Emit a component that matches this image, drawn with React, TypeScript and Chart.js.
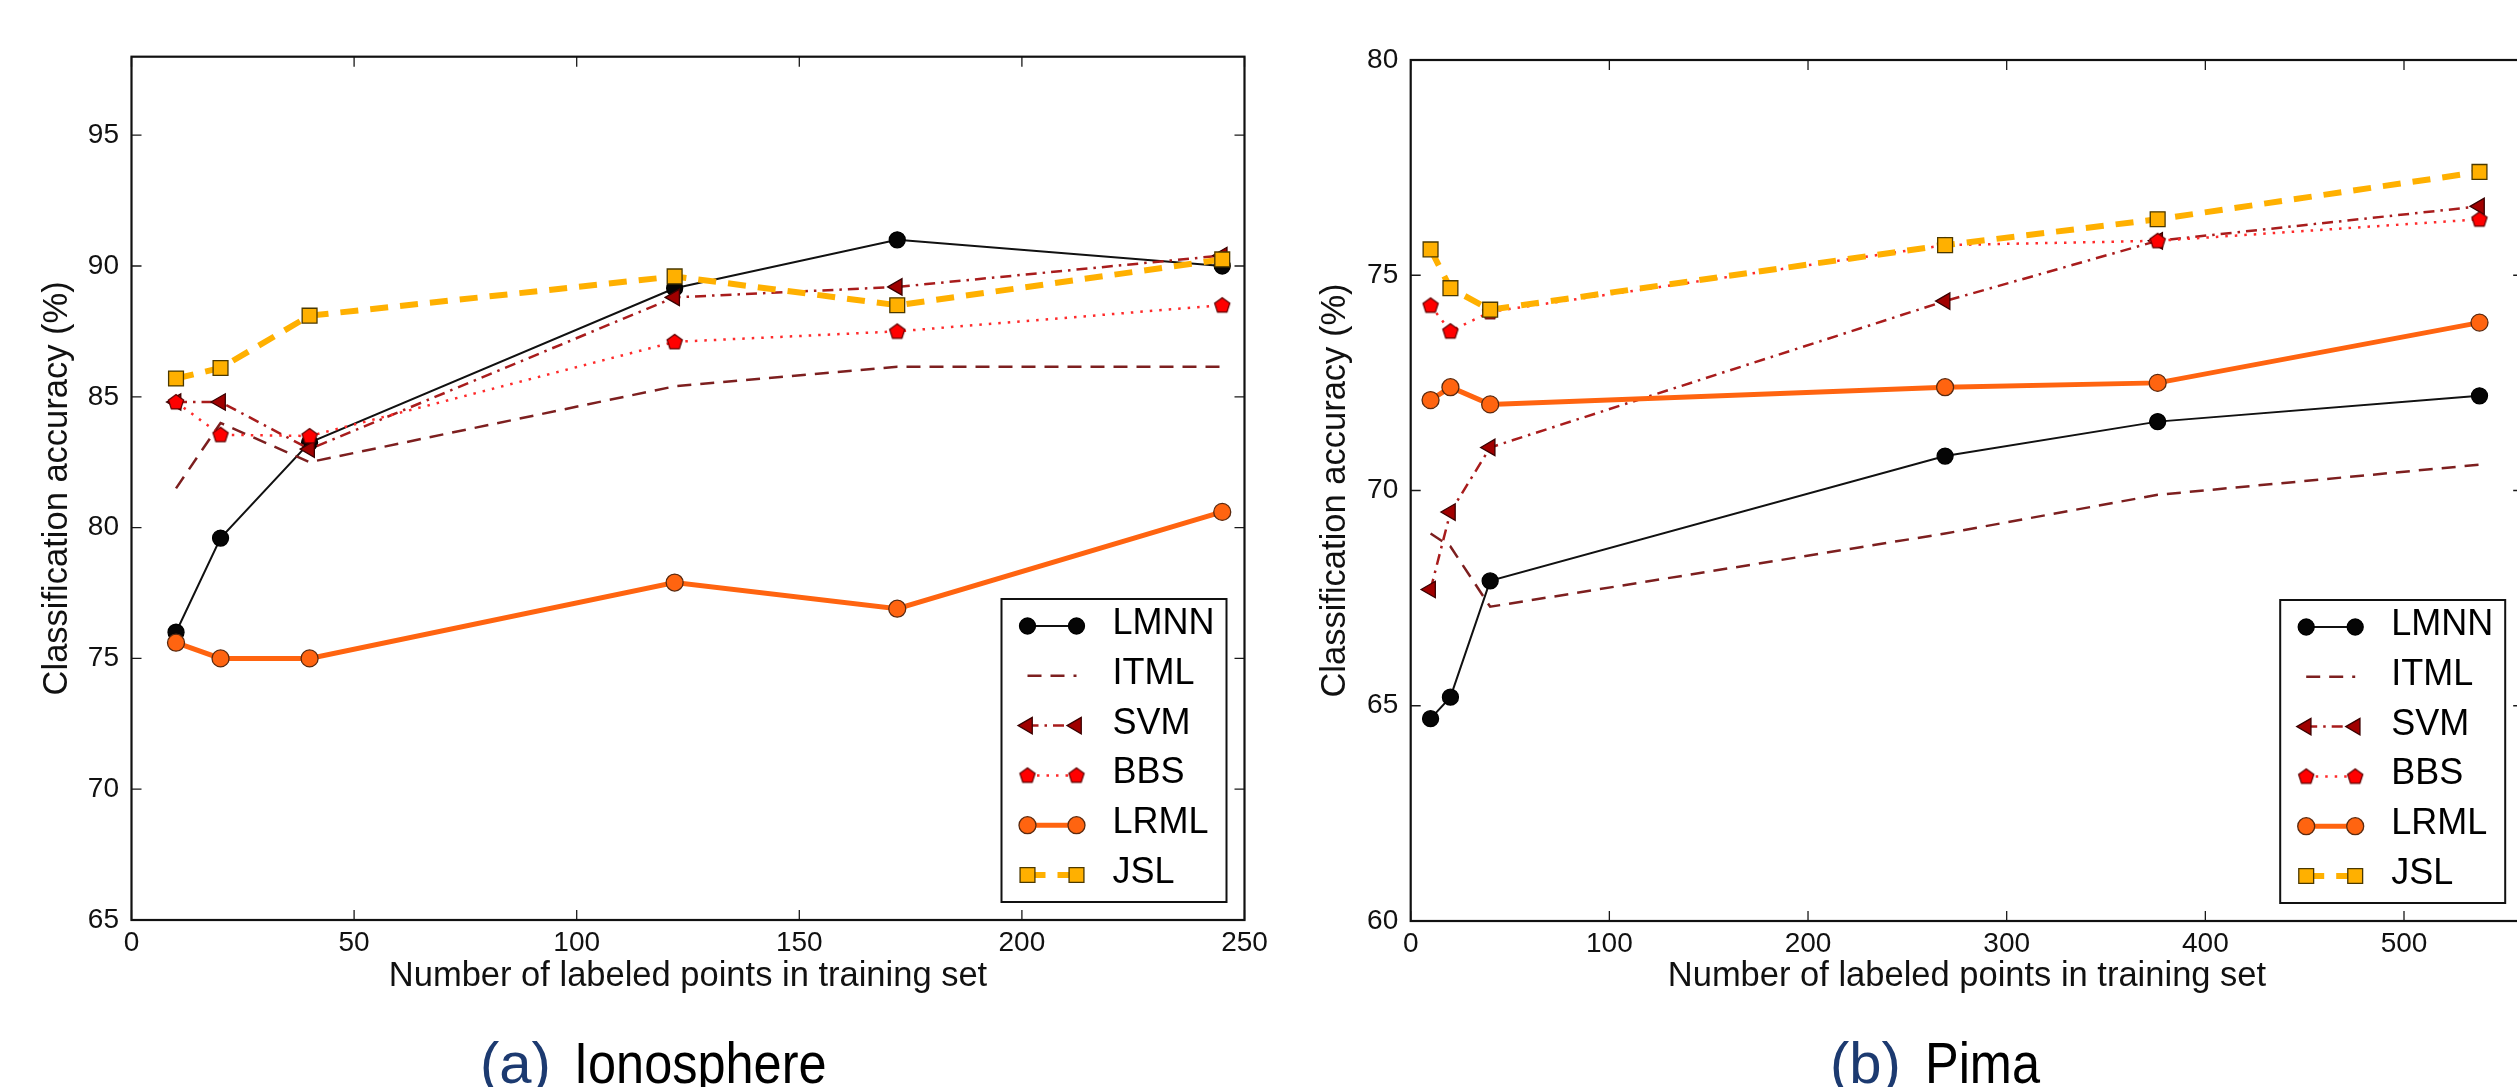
import React, { useEffect, useRef } from 'react';
import { Chart, registerables } from 'chart.js';
import { drawPoint } from 'chart.js/helpers';

Chart.register(...registerables);

// ---------------- data ----------------
const seriesNames = ['LMNN', 'ITML', 'SVM', 'BBS', 'LRML', 'JSL'];

// (a) Ionosphere
const ionoX = [10, 20, 40, 122, 172, 245];
const ionoLMNN = [76.0, 79.6, 83.25, 89.15, 91.0, 90.0];
const ionoITML = [81.5, 84.0, 82.5, 85.4, 86.15, 86.15];
const ionoSVM = [84.8, 84.8, 83.0, 88.8, 89.2, 90.4];
const ionoBBS = [84.8, 83.55, 83.5, 87.1, 87.5, 88.5];
const ionoLRML = [75.6, 75.0, 75.0, 77.9, 76.9, 80.6];
const ionoJSL = [85.7, 86.1, 88.1, 89.6, 88.5, 90.25];
const ionoXTicks = [0, 50, 100, 150, 200, 250];
const ionoYTicks = [65, 70, 75, 80, 85, 90, 95];
const ionoXRange = [0, 250];
const ionoYRange = [65, 98];

// (b) Pima
const pimaX = [10, 20, 40, 269, 376, 538];
const pimaLMNN = [64.7, 65.2, 67.9, 70.8, 71.6, 72.2];
const pimaITML = [69.0, 68.7, 67.3, 69.0, 69.9, 70.6];
const pimaSVM = [67.7, 69.5, 71.0, 74.4, 75.8, 76.6];
const pimaBBS = [74.3, 73.7, 74.15, 75.7, 75.8, 76.3];
const pimaLRML = [72.1, 72.4, 72.0, 72.4, 72.5, 73.9];
const pimaJSL = [75.6, 74.7, 74.2, 75.7, 76.3, 77.4];
const pimaXTicks = [0, 100, 200, 300, 400, 500];
const pimaYTicks = [60, 65, 70, 75, 80];
const pimaXRange = [0, 560];
const pimaYRange = [60, 80];

const xTitle = 'Number of labeled points in training set';
const yTitle = 'Classification accuracy (%)';
const captionA = ['(a)', 'Ionosphere'];
const captionB = ['(b)', 'Pima'];

// ---------------- styling ----------------
const FONT = "'Liberation Sans', Arial, Helvetica, sans-serif";

function makePentagon(r: number, fill: string, edge: string) {
  const size = Math.ceil(2 * r + 4);
  const c = document.createElement('canvas');
  c.width = size;
  c.height = size;
  const ctx = c.getContext('2d')!;
  ctx.beginPath();
  for (let i = 0; i < 5; i++) {
    const ang = -Math.PI / 2 + (i * 2 * Math.PI) / 5;
    const px = size / 2 + r * Math.cos(ang);
    const py = size / 2 + 0.5 + r * Math.sin(ang);
    if (i === 0) ctx.moveTo(px, py);
    else ctx.lineTo(px, py);
  }
  ctx.closePath();
  ctx.fillStyle = fill;
  ctx.fill();
  ctx.lineWidth = 1.2;
  ctx.strokeStyle = edge;
  ctx.stroke();
  return c;
}

function getStyles() {
  return [
    { color: '#111111', width: 2, dash: [], point: 'circle', radius: 8, fill: '#050505', edge: '#000000', rot: 0 },
    { color: '#7d1f1f', width: 2.5, dash: [14, 9], point: 'circle', radius: 0, fill: '#7d1f1f', edge: '#7d1f1f', rot: 0 },
    { color: '#a81c1c', width: 2.5, dash: [11, 6, 2.5, 6], point: 'triangle', radius: 9.5, fill: '#a00000', edge: '#3a0000', rot: -90 },
    { color: '#ff2a2a', width: 2.5, dash: [2.5, 7], point: makePentagon(8, '#ff0000', '#5a0000'), radius: 8, fill: '#ff0000', edge: '#5a0000', rot: 0 },
    { color: '#ff6410', width: 5, dash: [], point: 'circle', radius: 8.5, fill: '#ff6410', edge: '#5a2a10', rot: 0 },
    { color: '#ffb000', width: 6, dash: [18, 12], point: 'rect', radius: 10.5, fill: '#ffb000', edge: '#4a3800', rot: 0 },
  ];
}

const LEGEND = {
  offRight: 18,
  offBottom: 18,
  width: 225,
  height: 303,
  firstRow: 27,
  rowGap: 49.8,
  lineStart: 26,
  lineEnd: 75,
  textX: 111,
  fontSize: 36,
};

const decorPlugin = {
  id: 'decor',
  afterDatasetsDraw(chart: any, _args: any, opts: any) {
    const { ctx, chartArea: a, scales } = chart;
    const xs = scales.x;
    const ys = scales.y;
    ctx.save();
    ctx.setLineDash([]);
    ctx.strokeStyle = '#1a1a1a';
    ctx.lineWidth = 1.3;
    const tl = 10;
    ctx.beginPath();
    xs.ticks.forEach((t: any) => {
      const p = xs.getPixelForValue(t.value);
      ctx.moveTo(p, a.bottom);
      ctx.lineTo(p, a.bottom - tl);
      ctx.moveTo(p, a.top);
      ctx.lineTo(p, a.top + tl);
    });
    ys.ticks.forEach((t: any) => {
      const p = ys.getPixelForValue(t.value);
      ctx.moveTo(a.left, p);
      ctx.lineTo(a.left + tl, p);
      ctx.moveTo(a.right, p);
      ctx.lineTo(a.right - tl, p);
    });
    ctx.stroke();
    ctx.lineWidth = 2.2;
    ctx.strokeStyle = '#111';
    ctx.strokeRect(a.left, a.top, a.right - a.left, a.bottom - a.top);

    // legend (lower right)
    const L = opts.legend;
    const right = a.right - L.offRight;
    const bottom = a.bottom - L.offBottom;
    const left = right - L.width;
    const top = bottom - L.height;
    ctx.fillStyle = '#ffffff';
    ctx.fillRect(left, top, L.width, L.height);
    ctx.lineWidth = 2;
    ctx.strokeStyle = '#111';
    ctx.strokeRect(left, top, L.width, L.height);
    chart.data.datasets.forEach((ds: any, i: number) => {
      const y = top + L.firstRow + i * L.rowGap;
      const x0 = left + L.lineStart;
      const x1 = left + L.lineEnd;
      ctx.save();
      ctx.beginPath();
      ctx.setLineDash(ds.borderDash || []);
      ctx.lineWidth = ds.borderWidth;
      ctx.strokeStyle = ds.borderColor;
      ctx.moveTo(x0, y);
      ctx.lineTo(x1, y);
      ctx.stroke();
      ctx.setLineDash([]);
      if (ds.pointRadius > 0) {
        ctx.fillStyle = ds.pointBackgroundColor;
        ctx.strokeStyle = ds.pointBorderColor;
        ctx.lineWidth = ds.pointBorderWidth;
        const po = {
          pointStyle: ds.pointStyle,
          rotation: ds.pointRotation || 0,
          radius: ds.pointRadius,
          borderWidth: ds.pointBorderWidth,
        };
        drawPoint(ctx, po as any, x0, y);
        drawPoint(ctx, po as any, x1, y);
      }
      ctx.fillStyle = '#000';
      ctx.font = `${L.fontSize}px ${FONT}`;
      ctx.textBaseline = 'middle';
      ctx.textAlign = 'left';
      ctx.fillText(ds.label, left + L.textX, y - 2);
      ctx.restore();
    });
    ctx.restore();
  },
};

type Panel = {
  xs: number[];
  series: number[][];
  xTicks: number[];
  yTicks: number[];
  xRange: number[];
  yRange: number[];
  left: number;
  width: number;
  height: number;
  yAxisW: number;
  xAxisH: number;
  padTop: number;
  padRight: number;
  yTitlePad: number;
};

function makeConfig(p: Panel): any {
  const styles = getStyles();
  return {
    type: 'line',
    data: {
      datasets: seriesNames.map((name, i) => {
        const st = styles[i];
        return {
          label: name,
          data: p.xs.map((x, j) => ({ x, y: p.series[i][j] })),
          borderColor: st.color,
          borderWidth: st.width,
          borderDash: st.dash,
          pointStyle: st.point,
          pointRadius: st.radius,
          pointHoverRadius: st.radius,
          pointRotation: st.rot,
          pointBackgroundColor: st.fill,
          pointBorderColor: st.edge,
          pointBorderWidth: 1.3,
          tension: 0,
          fill: false,
          order: seriesNames.length - 1 - i,
        };
      }),
    },
    options: {
      responsive: false,
      animation: false,
      devicePixelRatio: 1,
      events: [],
      layout: { padding: { left: 0, top: p.padTop, right: p.padRight, bottom: 0 } },
      plugins: {
        legend: { display: false },
        tooltip: { enabled: false },
        decor: { legend: LEGEND },
      },
      scales: {
        x: {
          type: 'linear',
          min: p.xRange[0],
          max: p.xRange[1],
          afterBuildTicks: (s: any) => {
            s.ticks = p.xTicks.map((v) => ({ value: v }));
          },
          afterFit: (s: any) => {
            s.height = p.xAxisH;
            s.paddingLeft = 0;
            s.paddingRight = 0;
          },
          grid: { display: false, drawTicks: false },
          border: { display: false },
          ticks: {
            padding: 6,
            color: '#111',
            font: { family: FONT, size: 28 },
            maxRotation: 0,
            autoSkip: false,
          },
          title: {
            display: true,
            text: xTitle,
            color: '#111',
            font: { family: FONT, size: 34.5 },
            padding: { top: 0, bottom: 13 },
          },
        },
        y: {
          type: 'linear',
          min: p.yRange[0],
          max: p.yRange[1],
          afterBuildTicks: (s: any) => {
            s.ticks = p.yTicks.map((v) => ({ value: v }));
          },
          afterFit: (s: any) => {
            s.width = p.yAxisW;
            s.paddingTop = 0;
            s.paddingBottom = 0;
          },
          grid: { display: false, drawTicks: false },
          border: { display: false },
          ticks: {
            padding: 12.5,
            color: '#111',
            font: { family: FONT, size: 28 },
            autoSkip: false,
          },
          title: {
            display: true,
            text: yTitle,
            color: '#111',
            font: { family: FONT, size: 34.5 },
            padding: { top: p.yTitlePad, bottom: 0 },
          },
        },
      },
    },
    plugins: [decorPlugin],
  };
}

const panelA: Panel = {
  xs: ionoX,
  series: [ionoLMNN, ionoITML, ionoSVM, ionoBBS, ionoLRML, ionoJSL],
  xTicks: ionoXTicks,
  yTicks: ionoYTicks,
  xRange: ionoXRange,
  yRange: ionoYRange,
  left: 0,
  width: 1300,
  height: 1010,
  yAxisW: 131.5,
  xAxisH: 90,
  padTop: 56.7,
  padRight: 55.5,
  yTitlePad: 37,
};

const panelB: Panel = {
  xs: pimaX,
  series: [pimaLMNN, pimaITML, pimaSVM, pimaBBS, pimaLRML, pimaJSL],
  xTicks: pimaXTicks,
  yTicks: pimaYTicks,
  xRange: pimaXRange,
  yRange: pimaYRange,
  left: 1280,
  width: 1255,
  height: 1010,
  yAxisW: 130.7,
  xAxisH: 89,
  padTop: 60,
  padRight: 10,
  yTitlePad: 35,
};

function ChartPanel({ panel }: { panel: Panel }) {
  const ref = useRef<HTMLCanvasElement>(null);
  useEffect(() => {
    const chart = new Chart(ref.current as HTMLCanvasElement, makeConfig(panel));
    return () => chart.destroy();
  }, [panel]);
  return (
    <canvas
      ref={ref}
      width={panel.width}
      height={panel.height}
      style={{
        position: 'absolute',
        left: panel.left,
        top: 0,
        width: panel.width,
        height: panel.height,
      }}
    />
  );
}

function Caption({ parts, left, wordLeft }: { parts: string[]; left: number; wordLeft: number }) {
  const base: React.CSSProperties = {
    position: 'absolute',
    top: 1034,
    fontFamily: FONT,
    fontSize: 58,
    lineHeight: '58px',
    whiteSpace: 'nowrap',
  };
  return (
    <>
      <div style={{ ...base, left, color: '#1c3a70' }}>{parts[0]}</div>
      <div
        style={{
          ...base,
          left: wordLeft,
          color: '#000',
          transform: 'scaleX(0.87)',
          transformOrigin: 'left center',
        }}
      >
        {parts[1]}
      </div>
    </>
  );
}

export default function App() {
  return (
    <div
      style={{
        position: 'fixed',
        left: 0,
        top: 0,
        width: 2517,
        height: 1087,
        overflow: 'hidden',
        background: '#ffffff',
      }}
    >
      <ChartPanel panel={panelA} />
      <ChartPanel panel={panelB} />
      <Caption parts={captionA} left={480} wordLeft={574} />
      <Caption parts={captionB} left={1830} wordLeft={1925} />
    </div>
  );
}
